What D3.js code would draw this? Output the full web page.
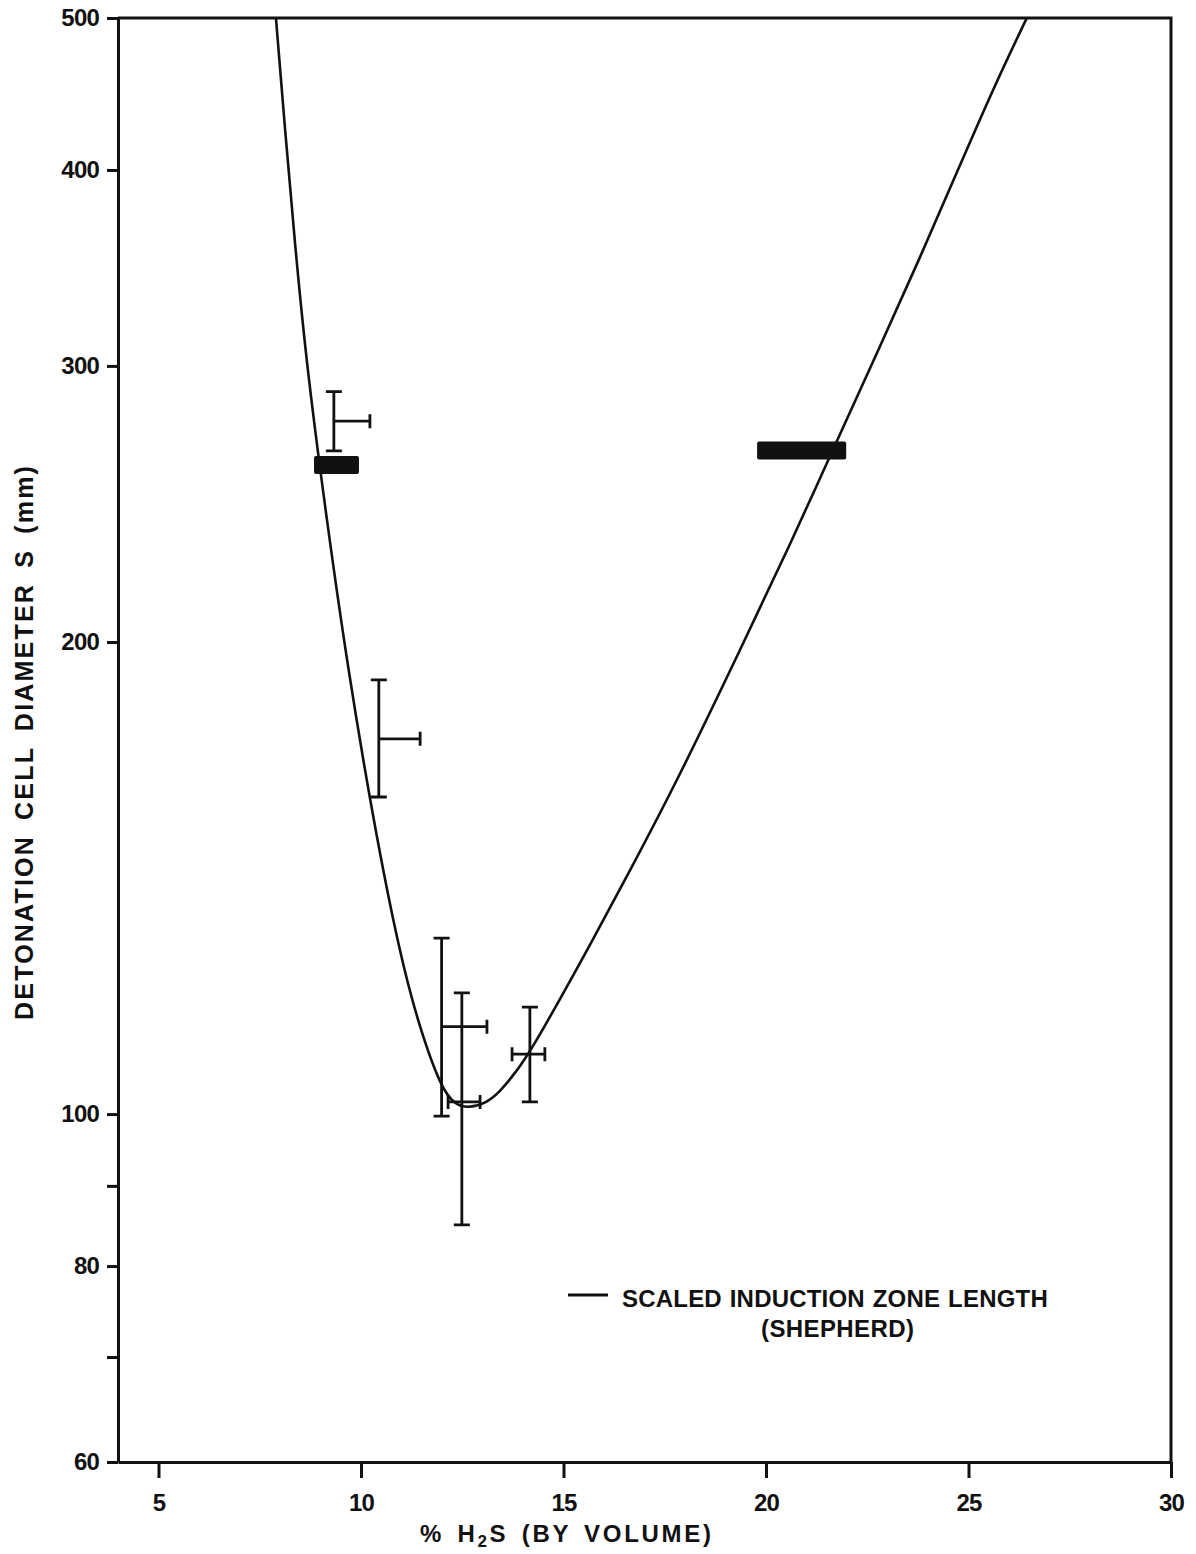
<!DOCTYPE html>
<html>
<head>
<meta charset="utf-8">
<script src="https://cdn.jsdelivr.net/npm/d3@7"></script>
<style>
  body { margin: 0; background: #fff; }
  text { font-family: "Liberation Sans", Arial, sans-serif; font-weight: bold; fill: #111; }
</style>
</head>
<body>
<div id="chart-container"></div>
<script>
// Scaled induction zone length curve (Shepherd)
const curveX = [7.90, 8.12, 8.37, 8.67, 9.16, 9.65, 10.30, 10.96, 11.46, 11.98, 12.32, 12.64,
  13.06, 13.43, 13.80, 14.17, 15.41, 16.52, 17.88, 19.36, 20.59, 21.65, 22.81, 23.80, 24.74,
  25.65, 26.44];
const curveY = [500, 425.5, 358.3, 298.2, 238.6, 194.2, 154.0, 126.3, 113.2, 103.9, 101.4, 100.9,
  101.5, 103.3, 106.2, 109.4, 124.8, 141, 164.5, 197.7, 230.6, 265.2, 308.5, 351.5, 400.1,
  453.2, 500];

// Measured cells with error bars
const errX = [9.33, 10.44, 11.99, 12.49, 14.17];
const errY = [276.6, 173.5, 113.7, 101.8, 109.2];
const errYLo = [264.8, 159.3, 99.7, 85.0, 101.8];
const errYHi = [288.9, 189.2, 129.5, 119.5, 117.0];
const errXLo = [9.33, 10.44, 11.99, 12.15, 13.73];
const errXHi = [10.22, 11.46, 13.11, 12.94, 14.54];

// Heavy range bars
const bandXLo = [8.84, 19.78];
const bandXHi = [9.95, 21.98];
const bandY = [259.4, 265.0];

// Axis ticks
const xTicks = [5, 10, 15, 20, 25, 30];
const yTicks = [60, 70, 80, 90, 100, 200, 300, 400, 500];
const yTickLabels = [60, 80, 100, 200, 300, 400, 500];

const legendText = ['SCALED INDUCTION ZONE LENGTH', '(SHEPHERD)'];

const margin = { top: 18, right: 25, bottom: 92, left: 118 };
const width = 1196 - margin.left - margin.right;
const height = 1554 - margin.top - margin.bottom;

const svg = d3.select('#chart-container').append('svg')
  .attr('width', 1196)
  .attr('height', 1554);

const g = svg.append('g')
  .attr('transform', `translate(${margin.left},${margin.top})`);

const x = d3.scaleLinear().domain([4, 30]).range([0, width]);
const y = d3.scaleLog().domain([60, 500]).range([height, 0]);

g.append('clipPath').attr('id', 'clip')
  .append('rect').attr('width', width).attr('height', height);

// frame: top and right
g.append('path')
  .attr('d', `M0,0H${width}V${height}`)
  .style('fill', 'none')
  .style('stroke', '#111')
  .style('stroke-width', 3);

// axes
const xAxis = g.append('g')
  .attr('transform', `translate(0,${height})`)
  .call(d3.axisBottom(x).tickValues(xTicks).tickSize(16).tickSizeOuter(0).tickPadding(16).tickFormat(d3.format('d')));

const yAxis = g.append('g')
  .call(d3.axisLeft(y).tickValues(yTicks).tickSize(11).tickSizeOuter(0).tickPadding(8)
    .tickFormat(d => yTickLabels.includes(d) ? d : ''));

[xAxis, yAxis].forEach(a => {
  a.select('.domain').style('stroke', '#111').style('stroke-width', 3);
  a.selectAll('.tick line').style('stroke', '#111').style('stroke-width', 3);
  a.selectAll('.tick text')
    .style('font-family', '"Liberation Sans", Arial, sans-serif')
    .style('font-weight', 'bold')
    .style('font-size', '24px')
    .style('letter-spacing', '-0.8px')
    .style('fill', '#111');
});

// curve (basis spline smooths the hand-read points)
const curveData = curveX.map((d, i) => ({ x: d, y: curveY[i] }));
const line = d3.line()
  .x(d => x(d.x))
  .y(d => y(d.y))
  .curve(d3.curveBasis);

g.append('path')
  .datum(curveData)
  .attr('clip-path', 'url(#clip)')
  .attr('d', line)
  .style('fill', 'none')
  .style('stroke', '#111')
  .style('stroke-width', 2.6);

// error bars
const errData = errX.map((d, i) => ({
  x: d, y: errY[i], ylo: errYLo[i], yhi: errYHi[i], xlo: errXLo[i], xhi: errXHi[i]
}));
const capV = 8, capH = 7;
g.selectAll('.err')
  .data(errData)
  .enter().append('path')
  .attr('class', 'err')
  .attr('d', d => {
    const cx = x(d.x), cy = y(d.y);
    const y0 = y(d.ylo), y1 = y(d.yhi), x0 = x(d.xlo), x1 = x(d.xhi);
    let p = `M${cx},${y0}V${y1}M${cx - capV},${y1}H${cx + capV}M${cx - capV},${y0}H${cx + capV}`;
    p += `M${x0},${cy}H${x1}M${x1},${cy - capH}V${cy + capH}`;
    if (d.xlo < d.x) p += `M${x0},${cy - capH}V${cy + capH}`;
    return p;
  })
  .style('fill', 'none')
  .style('stroke', '#111')
  .style('stroke-width', 2.8);

// heavy range bars
g.selectAll('.band')
  .data(bandY)
  .enter().append('rect')
  .attr('class', 'band')
  .attr('x', (d, i) => x(bandXLo[i]))
  .attr('width', (d, i) => x(bandXHi[i]) - x(bandXLo[i]))
  .attr('y', d => y(d) - 9)
  .attr('height', 18)
  .attr('rx', 2)
  .style('fill', '#111');

// legend
const legend = svg.append('g').attr('transform', 'translate(568,1307)');
legend.append('line')
  .attr('x1', 0).attr('x2', 40).attr('y1', -12).attr('y2', -12)
  .style('stroke', '#111').style('stroke-width', 3);
legend.append('text')
  .attr('x', 54).attr('y', 0)
  .style('font-size', '24px')
  .style('letter-spacing', '0.2px')
  .style('word-spacing', '1px')
  .text(legendText[0]);
legend.append('text')
  .attr('x', 193).attr('y', 30)
  .style('font-size', '24px')
  .style('letter-spacing', '0.4px')
  .text(legendText[1]);

// axis labels
const xLabel = svg.append('text')
  .attr('x', 420).attr('y', 1542)
  .style('font-size', '24px')
  .style('letter-spacing', '2.7px')
  .style('word-spacing', '4px');
xLabel.append('tspan').text('% H');
xLabel.append('tspan').attr('dy', 5).style('font-size', '17px').text('2');
xLabel.append('tspan').attr('dy', -5).text('S (BY VOLUME)');

svg.append('text')
  .attr('transform', 'translate(33,1020) rotate(-90)')
  .style('font-size', '25px')
  .style('letter-spacing', '2.2px')
  .style('word-spacing', '6px')
  .text('DETONATION CELL DIAMETER S (mm)');
</script>
</body>
</html>
